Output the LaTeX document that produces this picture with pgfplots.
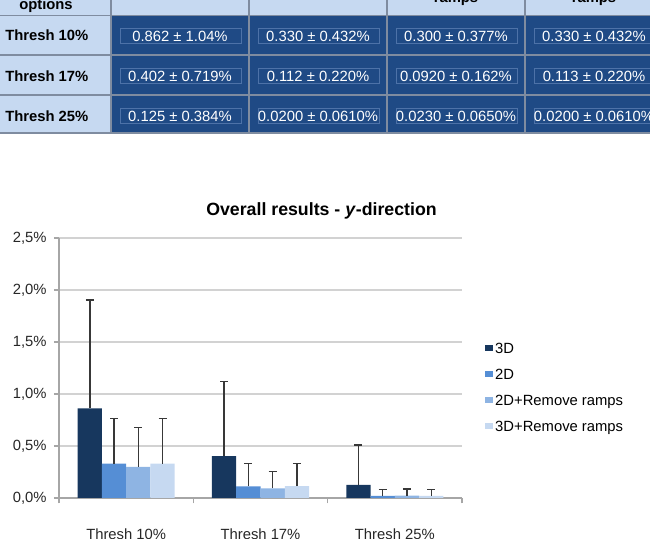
\documentclass[border=0pt]{standalone}
\usepackage{fontspec}
\setmainfont{Liberation Sans}
\usepackage{pgfplots}
\pgfplotsset{compat=1.18}
\pgfplotsset{sqlegend/.style={legend image code/.code={\fill[##1] (0pt,-1.5pt) rectangle (5.5pt,3.5pt);}}}
\definecolor{cA}{HTML}{17375E}
\definecolor{cB}{HTML}{558ED5}
\definecolor{cC}{HTML}{8EB4E3}
\definecolor{cD}{HTML}{C6D9F1}
\definecolor{tLight}{HTML}{C6D9F1}
\definecolor{tDark}{HTML}{1F4A85}
\definecolor{tLine}{HTML}{7F8CA0}
\definecolor{tInner}{HTML}{4D72A8}
\newcommand{\tf}{\fontsize{11.1}{13}\selectfont}
\begin{document}
\begin{tikzpicture}[x=0.75pt,y=0.75pt]
\path[use as bounding box] (0,0) rectangle (650,539);
\clip (0,0) rectangle (650,539);
% ---- table ----
\fill[tLight] (0,406) rectangle (650,539);
\fill[tDark] (111,406) rectangle (650,523.5);
\foreach \c in {111,249,387,525}{
  \foreach \yc in {503,463,423}{
    \draw[tInner, line width=0.6pt] (\c+9,\yc-7.5) rectangle (\c+130,\yc+7.5);
  }
}
\foreach \yy in {523.5,484,444}{\draw[tLine, line width=1.2pt] (0,\yy) -- (650,\yy);}
\foreach \xx in {111,249,387,525}{\draw[tLine, line width=1.2pt] (\xx,406) -- (\xx,539);}
\draw[tLine, line width=1.2pt] (0,406) -- (650,406);
\node[font=\tf\bfseries, anchor=base] at (46,529) {options};
\node[font=\tf\bfseries, anchor=base] at (456,536.5) {ramps};
\node[font=\tf\bfseries, anchor=base] at (594,536.5) {ramps};
\node[font=\tf\bfseries, anchor=west, inner sep=0pt] at (5,504) {Thresh 10\%};
\node[font=\tf\bfseries, anchor=west, inner sep=0pt] at (5,463) {Thresh 17\%};
\node[font=\tf\bfseries, anchor=west, inner sep=0pt] at (5,423) {Thresh 25\%};
\begin{scope}[every node/.style={font=\tf, text=white, inner sep=0pt}]
\node at (180,503) {0.862 ± 1.04\%};
\node at (318,503) {0.330 ± 0.432\%};
\node at (456,503) {0.300 ± 0.377\%};
\node at (594,503) {0.330 ± 0.432\%};
\node at (180,463) {0.402 ± 0.719\%};
\node at (318,463) {0.112 ± 0.220\%};
\node at (456,463) {0.0920 ± 0.162\%};
\node at (594,463) {0.113 ± 0.220\%};
\node at (180,423) {0.125 ± 0.384\%};
\node at (318,423) {0.0200 ± 0.0610\%};
\node at (456,423) {0.0230 ± 0.0650\%};
\node at (594,423) {0.0200 ± 0.0610\%};
\end{scope}
% ---- title ----
\node[font=\bfseries\fontsize{13.3}{16}\selectfont] at (321.5,328) {Overall results - \textit{y}-direction};
% ---- chart ----
\begin{axis}[
  at={(44.25pt,30.75pt)}, anchor=south west,
  scale only axis, width=302.25pt, height=195pt,
  xmin=-0.5, xmax=2.5, ymin=0, ymax=2.5,
  ybar=0pt, bar width=18.2pt,
  axis lines*=left,
  axis line style={draw=gray!70, line width=0.8pt},
  ymajorgrids, grid style={gray!35, line width=0.8pt},
  ytick={0,0.5,1,1.5,2,2.5},
  yticklabels={{0,0\%},{0,5\%},{1,0\%},{1,5\%},{2,0\%},{2,5\%}},
  ytick style={draw=gray!70, line width=0.8pt}, tick align=outside, major tick length=3.75pt,
  xtick={0,1,2},
  xticklabels={Thresh 10\%,Thresh 17\%,Thresh 25\%},
  xtick style={draw=none},
  extra x ticks={-0.5,0.5,1.5,2.5},
  extra x tick labels={},
  extra x tick style={grid=none, xtick style={draw=gray!70, line width=0.8pt}, major tick length=4pt},
  ticklabel style={font=\tf, text=black!85},
  xticklabel style={yshift=-16pt},
  yticklabel style={xshift=-2pt},
  legend style={draw=none, fill=none, at={(1.057,0.607)}, anchor=north west, font=\tf, row sep=6.3pt, inner sep=0pt},
  legend cell align=left,
  error bars/y dir=plus, error bars/y explicit,
  error bars/error bar style={line width=1.1pt, draw=black!78},
  error bars/error mark options={rotate=90, mark size=3pt, line width=1.1pt, draw=black!78},
]
\addplot[fill=cA, draw=none, sqlegend]
  coordinates {(0,0.862) +- (0,1.04) (1,0.402) +- (0,0.719) (2,0.125) +- (0,0.384)};
\addplot[fill=cB, draw=none, sqlegend]
  coordinates {(0,0.330) +- (0,0.432) (1,0.112) +- (0,0.220) (2,0.0200) +- (0,0.0610)};
\addplot[fill=cC, draw=none, sqlegend]
  coordinates {(0,0.300) +- (0,0.377) (1,0.0920) +- (0,0.162) (2,0.0230) +- (0,0.0650)};
\addplot[fill=cD, draw=none, sqlegend]
  coordinates {(0,0.330) +- (0,0.432) (1,0.113) +- (0,0.220) (2,0.0200) +- (0,0.0610)};
\legend{3D,2D,2D+Remove ramps,3D+Remove ramps}
\end{axis}
\end{tikzpicture}
\end{document}
